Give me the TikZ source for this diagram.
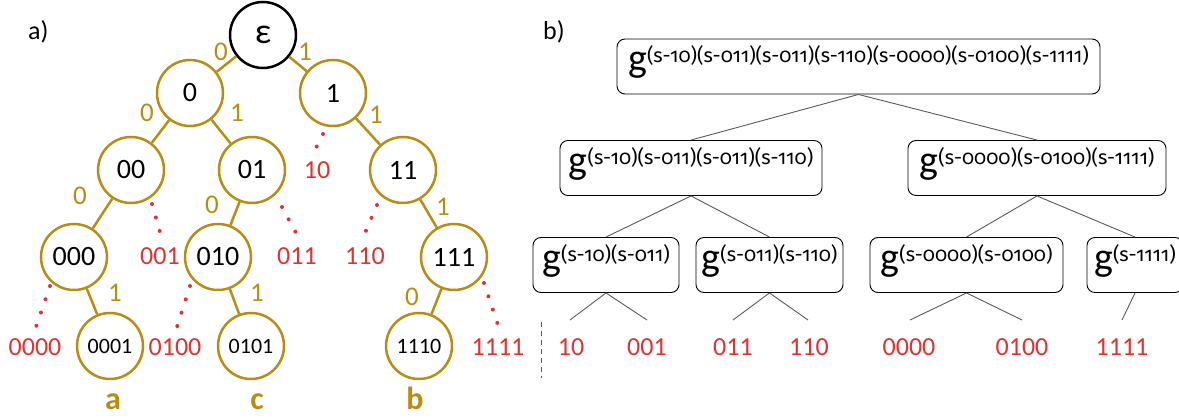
\documentclass[tikz,border=0pt]{standalone}
\usepackage{fontspec}
\setmainfont{Carlito}
\newfontfamily\supfont{Fira Sans}[Numbers=OldStyle]
\definecolor{gold}{RGB}{185,140,20}
\definecolor{leafred}{RGB}{221,51,51}
\definecolor{conngray}{RGB}{90,90,90}
\newcommand\fsz[1]{\fontsize{#1}{#1}\selectfont}
\newcommand\gexp[1]{\fsz{40}g\raisebox{9pt}{\supfont\fsz{20}#1}}
\begin{document}
\begin{tikzpicture}[x=1pt,y=-1pt,
  tnode/.style={circle, draw=gold, line width=2.5pt, minimum size=66pt, inner sep=0pt, font=\fsz{28}},
  tnodesmall/.style={tnode, font=\fsz{22}},
  rootnode/.style={tnode, draw=black, font=\fsz{36}},
  tedge/.style={draw=gold, line width=2.5pt},
  elabel/.style={text=gold, font=\fsz{27}, inner sep=0pt},
  leaflabel/.style={text=leafred, font=\fsz{26}, inner sep=0pt},
  leafdots/.style={draw=leafred, line width=4pt, dash pattern=on 0pt off 14pt, line cap=round},
  gbox/.style={draw=black, line width=0.9pt, rounded corners=8pt, inner xsep=0pt, inner ysep=0pt, text height=33pt, text depth=22pt},
  connline/.style={draw=conngray, line width=0.9pt},
  abclabel/.style={text=gold, font=\fsz{32}\bfseries, anchor=base, inner sep=0pt},
  panellabel/.style={font=\fsz{26}, anchor=base west, inner sep=0pt}
]
\useasboundingbox (0,0) rectangle (1179,419);
\clip (0,0) rectangle (1179,419);

% ---------- panel a ----------
\node[panellabel] (pa) at (28,40) {a)};

\node[rootnode] (eps) at (263,35) {ε};
\node[tnode] (n0) at (190,93) {0};
\node[tnode] (n1) at (333,93) {1};
\node[tnode] (n00) at (131,170) {00};
\node[tnode] (n01) at (252,170) {01};
\node[tnode] (n11) at (403,170) {11};
\node[tnode] (n000) at (74,257) {000};
\node[tnode] (n010) at (218,257) {010};
\node[tnode] (n111) at (454,257) {111};
\node[tnodesmall] (n0001) at (110,346) {0001};
\node[tnodesmall] (n0101) at (251,346) {0101};
\node[tnodesmall] (n1110) at (419,346) {1110};

\draw[tedge] (eps) -- (n0);
\draw[tedge] (eps) -- (n1);
\draw[tedge] (n0) -- (n00);
\draw[tedge] (n0) -- (n01);
\draw[tedge] (n1) -- (n11);
\draw[tedge] (n00) -- (n000);
\draw[tedge] (n01) -- (n010);
\draw[tedge] (n11) -- (n111);
\draw[tedge] (n000) -- (n0001);
\draw[tedge] (n010) -- (n0101);
\draw[tedge] (n111) -- (n1110);

\node[elabel] (e1) at (221,52) {0};
\node[elabel] (e2) at (305,52) {1};
\node[elabel] (e3) at (147,113) {0};
\node[elabel] (e4) at (237,113) {1};
\node[elabel] (e5) at (376,115) {1};
\node[elabel] (e6) at (80,196) {0};
\node[elabel] (e7) at (212,205) {0};
\node[elabel] (e8) at (443,207) {1};
\node[elabel] (e9) at (115,293) {1};
\node[elabel] (e10) at (257,293) {1};
\node[elabel] (e11) at (412,297) {0};

\node[leaflabel] (l10) at (317,170) {10};
\node[leaflabel] (l001) at (160,256) {001};
\node[leaflabel] (l011) at (297,256) {011};
\node[leaflabel] (l110) at (365,256) {110};
\node[leaflabel] (l0000) at (35,347) {0000};
\node[leaflabel] (l0100) at (175,347) {0100};
\node[leaflabel] (l1111) at (498,347) {1111};

\coordinate (d10a) at (323,134);   \coordinate (d10b) at (316,148);
\coordinate (d001a) at (152,204);  \coordinate (d001b) at (160,232);
\coordinate (d011a) at (282,207);  \coordinate (d011b) at (296,233);
\coordinate (d110a) at (377,205);  \coordinate (d110b) at (365,233);
\coordinate (d0000a) at (50,286);  \coordinate (d0000b) at (35,330);
\coordinate (d0100a) at (190,286); \coordinate (d0100b) at (176,330);
\coordinate (d1111a) at (484,283); \coordinate (d1111b) at (498,325);
\draw[leafdots] (d10a) -- (d10b);
\draw[leafdots] (d001a) -- (d001b);
\draw[leafdots] (d011a) -- (d011b);
\draw[leafdots] (d110a) -- (d110b);
\draw[leafdots] (d0000a) -- (d0000b);
\draw[leafdots] (d0100a) -- (d0100b);
\draw[leafdots] (d1111a) -- (d1111b);

\node[abclabel] (la) at (113,410) {a};
\node[abclabel] (lc) at (257,410) {c};
\node[abclabel] (lb) at (415,410) {b};

% separator
\coordinate (sepa) at (541,322);
\coordinate (sepb) at (541,378);
\draw[draw=conngray, line width=0.9pt, dash pattern=on 5pt off 4pt] (sepa) -- (sepb);

% ---------- panel b ----------
\node[panellabel] (pb) at (543,40) {b)};

\node[gbox, minimum width=483pt] (top) at (858.5,66.5) {\gexp{(s-10)(s-011)(s-011)(s-110)(s-0000)(s-0100)(s-1111)}};
\node[gbox, minimum width=262pt] (ml) at (691,168) {\gexp{(s-10)(s-011)(s-011)(s-110)}};
\node[gbox, minimum width=258pt] (mr) at (1037,168) {\gexp{(s-0000)(s-0100)(s-1111)}};
\node[gbox, minimum width=146pt] (b1) at (606,265) {\gexp{(s-10)(s-011)}};
\node[gbox, minimum width=147pt] (b2) at (769.5,265) {\gexp{(s-011)(s-110)}};
\node[gbox, minimum width=193pt] (b3) at (966.5,265) {\gexp{(s-0000)(s-0100)}};
\node[gbox, minimum width=96pt] (b4) at (1135,265) {\gexp{(s-1111)}};

\draw[connline] (top.south) -- (ml.north);
\draw[connline] (top.south) -- (mr.north);
\draw[connline] (ml.south) -- (b1.north);
\draw[connline] (ml.south) -- (b2.north);
\draw[connline] (mr.south) -- (b3.north);
\draw[connline] (mr.south) -- (b4.north);

\node[leaflabel] (r10) at (571,347) {10};
\node[leaflabel] (r001) at (647,347) {001};
\node[leaflabel] (r011) at (733,347) {011};
\node[leaflabel] (r110) at (809,347) {110};
\node[leaflabel] (r0000) at (909,347) {0000};
\node[leaflabel] (r0100) at (1022,347) {0100};
\node[leaflabel] (r1111) at (1122,347) {1111};

\coordinate (c10) at (570,320);
\coordinate (c001) at (647,320);
\coordinate (c011) at (733,320);
\coordinate (c110) at (808,320);
\coordinate (c0000) at (910,320);
\coordinate (c0100) at (1022,320);
\coordinate (c1111) at (1122,320);
\draw[connline] (b1.south) -- (c10);
\draw[connline] (b1.south) -- (c001);
\draw[connline] (b2.south) -- (c011);
\draw[connline] (b2.south) -- (c110);
\draw[connline] (b3.south) -- (c0000);
\draw[connline] (b3.south) -- (c0100);
\draw[connline] (b4.south) -- (c1111);
\end{tikzpicture}
\end{document}
